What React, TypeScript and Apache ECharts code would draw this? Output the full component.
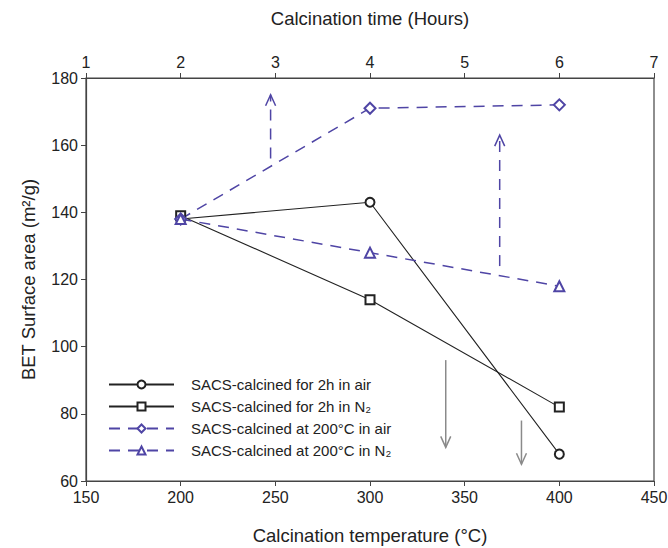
import React, { useEffect, useRef } from "react";
import * as echarts from "echarts";

// Data
const temperatures = [200, 300, 400]; // °C (bottom axis)
const hours = [2, 4, 6]; // h (top axis)
const airTemp = [138, 143, 68]; // SACS-calcined for 2h in air
const n2Temp = [139, 114, 82]; // SACS-calcined for 2h in N2
const airTime = [138, 171, 172]; // SACS-calcined at 200°C in air
const n2Time = [138, 128, 118]; // SACS-calcined at 200°C in N2

const seriesNames = [
  "SACS-calcined for 2h in air",
  "SACS-calcined for 2h in N₂",
  "SACS-calcined at 200°C in air",
  "SACS-calcined at 200°C in N₂",
];

// Arrows: [x, from y, to y]
const timeArrows = [
  [2.95, 156, 175],
  [5.37, 124, 163],
];
const tempArrows = [
  [340, 96, 70],
  [380, 78, 65],
];

const xTicksTemp = { min: 150, max: 450, interval: 50 };
const xTicksTime = { min: 1, max: 7, interval: 1 };
const yTicks = { min: 60, max: 180, interval: 20 };

const BLUE = "#4f45a5";
const BLACK = "#222";
const FONT = "Liberation Sans, Arial, sans-serif";

function arrowRender(color: string, dashed: boolean) {
  return (params: any, api: any) => {
    const x = api.value(0);
    const p1 = api.coord([x, api.value(1)]);
    const p2 = api.coord([x, api.value(2)]);
    const dir = p2[1] < p1[1] ? 1 : -1;
    return {
      type: "group",
      children: [
        {
          type: "line",
          shape: { x1: p1[0], y1: p1[1], x2: p2[0], y2: p2[1] },
          style: { stroke: color, lineWidth: 1.5, lineDash: dashed ? [11, 8] : null },
        },
        {
          type: "polyline",
          shape: {
            points: [
              [p2[0] - 5, p2[1] + dir * 11],
              [p2[0], p2[1]],
              [p2[0] + 5, p2[1] + dir * 11],
            ],
          },
          style: { stroke: color, lineWidth: 1.5, fill: "none" },
        },
      ],
    };
  };
}

export default function App() {
  const ref = useRef<HTMLDivElement>(null);
  useEffect(() => {
    if (!ref.current) return;
    const chart = echarts.init(ref.current, undefined, { renderer: "svg" });
    const axisLine = { show: true, lineStyle: { color: "#444", width: 1.2 } };
    const axisTick = { show: true, inside: false, length: 5, lineStyle: { color: "#444" } };
    const axisLabel = { color: "#222", fontSize: 16, fontFamily: FONT, margin: 8 };
    const nameStyle = { color: "#222", fontSize: 18.5, fontFamily: FONT };
    chart.setOption({
      animation: false,
      backgroundColor: "#fff",
      grid: {
        left: 86,
        right: 14,
        top: 78,
        bottom: 67,
        containLabel: false,
        outerBoundsMode: "none",
        show: true,
        borderColor: "#444",
        borderWidth: 1.2,
      },
      legend: {
        data: seriesNames,
        orient: "vertical",
        left: 108,
        top: 377,
        padding: 0,
        itemWidth: 65,
        itemHeight: 10,
        itemGap: 7,
        textStyle: { fontSize: 15, color: "#222", fontFamily: FONT, padding: [0, 0, 0, 12] },
      },
      xAxis: [
        {
          type: "value",
          position: "bottom",
          ...xTicksTemp,
          name: "Calcination temperature (°C)",
          nameLocation: "middle",
          nameGap: 45,
          nameTextStyle: nameStyle,
          axisLine,
          axisTick,
          axisLabel,
          splitLine: { show: false },
        },
        {
          type: "value",
          position: "top",
          ...xTicksTime,
          name: "Calcination time (Hours)",
          nameLocation: "middle",
          nameGap: 50,
          nameTextStyle: nameStyle,
          axisLine,
          axisTick,
          axisLabel,
          splitLine: { show: false },
        },
      ],
      yAxis: {
        type: "value",
        ...yTicks,
        name: "BET Surface area (m²/g)",
        nameLocation: "middle",
        nameGap: 48,
        nameTextStyle: nameStyle,
        axisLine,
        axisTick,
        axisLabel,
        splitLine: { show: false },
      },
      series: [
        {
          name: seriesNames[0],
          type: "line",
          xAxisIndex: 0,
          data: temperatures.map((t, i) => [t, airTemp[i]]),
          symbol: "emptyCircle",
          symbolSize: 9,
          lineStyle: { color: BLACK, width: 1.1 },
          itemStyle: { color: BLACK, borderWidth: 1 },
        },
        {
          name: seriesNames[1],
          type: "line",
          xAxisIndex: 0,
          data: temperatures.map((t, i) => [t, n2Temp[i]]),
          symbol: "emptyRect",
          symbolSize: 9,
          lineStyle: { color: BLACK, width: 1.1 },
          itemStyle: { color: BLACK, borderWidth: 1 },
        },
        {
          name: seriesNames[2],
          type: "line",
          xAxisIndex: 1,
          data: hours.map((h, i) => [h, airTime[i]]),
          symbol: "emptyDiamond",
          symbolSize: 11,
          lineStyle: { color: BLUE, width: 1.5, type: [11, 8] },
          itemStyle: { color: BLUE, borderWidth: 1 },
        },
        {
          name: seriesNames[3],
          type: "line",
          xAxisIndex: 1,
          data: hours.map((h, i) => [h, n2Time[i]]),
          symbol: "emptyTriangle",
          symbolSize: 10,
          lineStyle: { color: BLUE, width: 1.5, type: [11, 8] },
          itemStyle: { color: BLUE, borderWidth: 1 },
        },
        {
          name: "timeArrows",
          type: "custom",
          xAxisIndex: 1,
          data: timeArrows,
          encode: { x: 0, y: [1, 2] },
          renderItem: arrowRender(BLUE, true),
          silent: true,
        },
        {
          name: "tempArrows",
          type: "custom",
          xAxisIndex: 0,
          data: tempArrows,
          encode: { x: 0, y: [1, 2] },
          renderItem: arrowRender("#8a8a8a", false),
          silent: true,
        },
      ],
    });
    return () => chart.dispose();
  }, []);
  return (
    <div
      ref={ref}
      style={{ position: "fixed", left: 0, top: 0, width: 668, height: 548, background: "#fff" }}
    />
  );
}
